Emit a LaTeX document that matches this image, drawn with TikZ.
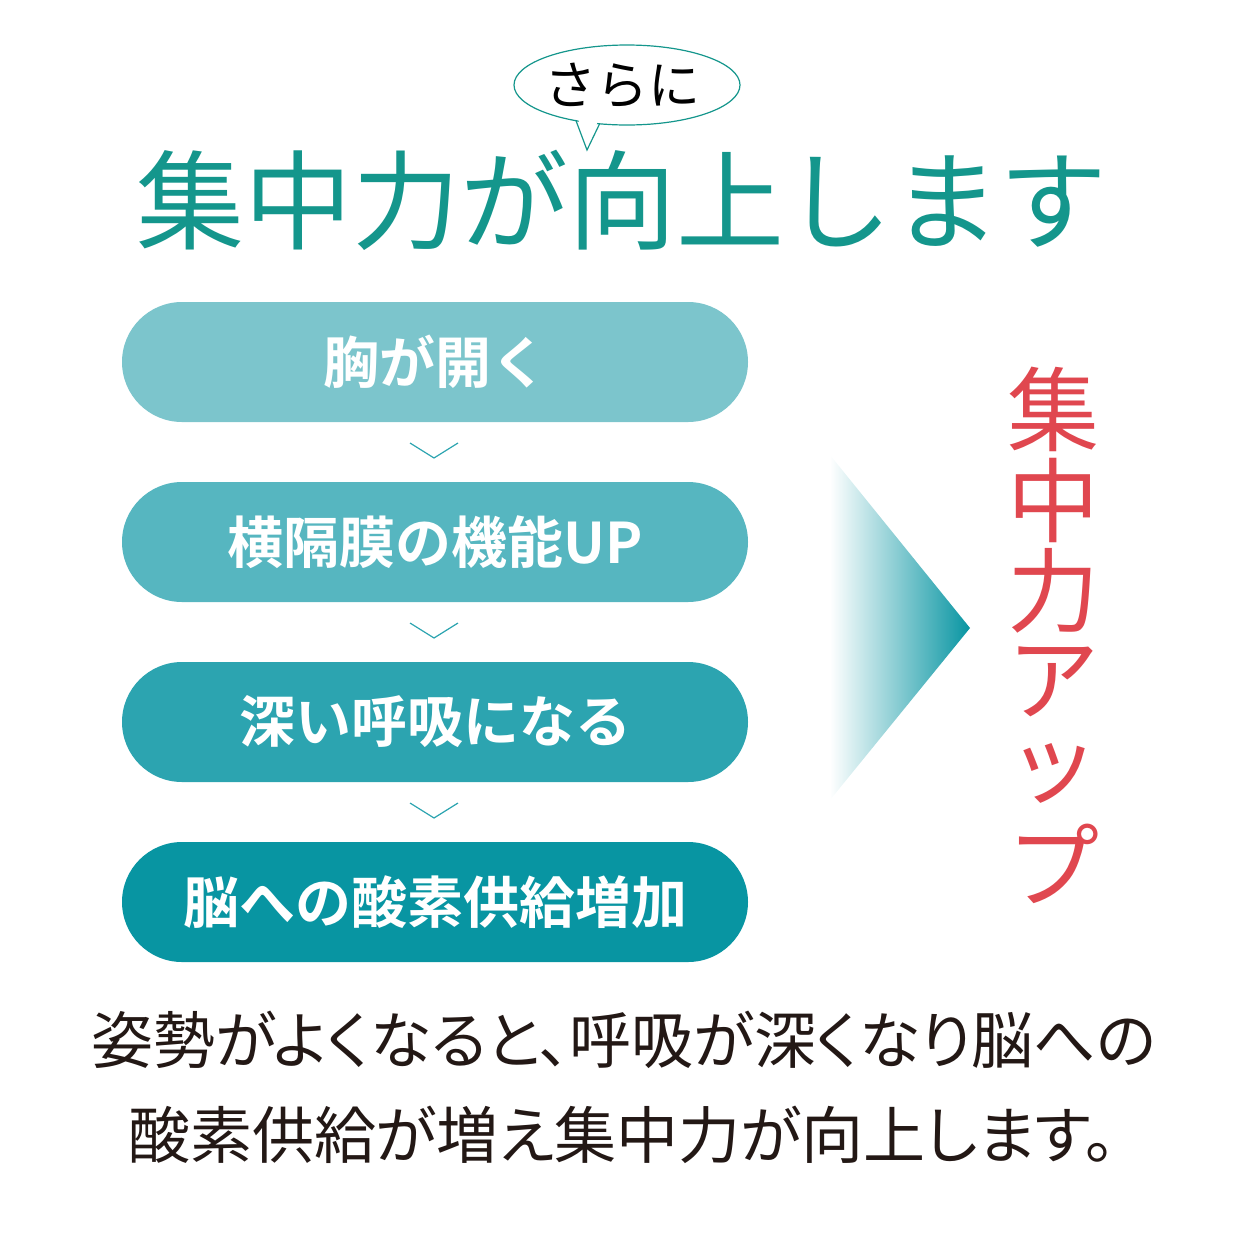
\documentclass[tikz,border=0pt]{standalone}
\usepackage{fontspec}
\newfontfamily\jp{Noto Sans CJK JP}
\newfontfamily\jpp[RawFeature=+palt]{Noto Sans CJK JP}
\newfontfamily\jpb{Noto Sans CJK JP Bold}
\usetikzlibrary{positioning,shapes.geometric}
\definecolor{ttl}{RGB}{20,150,140}
\definecolor{boxa}{RGB}{124,197,204}
\definecolor{boxb}{RGB}{86,182,192}
\definecolor{boxc}{RGB}{44,164,176}
\definecolor{boxd}{RGB}{8,149,162}
\definecolor{up}{RGB}{224,71,79}
\definecolor{body}{RGB}{35,24,21}
\begin{document}
\begin{tikzpicture}[x=1pt,y=-1pt,
	stepbox/.style={rounded corners=60pt, minimum width=626pt, minimum height=120pt, text=white, font=\jpb\fontsize{56}{56}\selectfont, inner sep=0pt},
	chev/.style={boxc, line width=1.2pt}
	]
	\useasboundingbox (0,0) rectangle (1248,1248);
	
	% bubble
	\draw[ttl, line width=1.2pt, fill=white] (575,118) -- (587,150) -- (600,123);
	\node[ellipse, draw=ttl, line width=1.2pt, fill=white, minimum width=226pt, minimum height=80pt] (bubble) at (627,85) {};
	\fill[white] (577,116) -- (587,146) -- (598,121) -- cycle;
	\node[font=\jp\fontsize{52}{52}\selectfont] (sarani) at (622,85) {さらに};
	
	\node[text=ttl, font=\jp\fontsize{108}{108}\selectfont] (title) at (622,200) {集中力が向上します};
	
	\node[stepbox, fill=boxa] (s1) at (435,362) {胸が開く};
	\node[stepbox, fill=boxb] (s2) at (435,542) {横隔膜の機能UP};
	\node[stepbox, fill=boxc] (s3) at (435,722) {深い呼吸になる};
	\node[stepbox, fill=boxd] (s4) at (435,902) {脳への酸素供給増加};
	
	\foreach \y in {443,623,803}
	  \draw[chev] (410,\y) -- (434,\y+15) -- (458,\y);
	
	\shade[left color=white, right color=boxd] (830,455) -- (970,628) -- (830,800) -- cycle;
	
	\foreach \c [count=\i] in {集,中,力,ア,ッ,プ}
	  \node[text=up, font=\jp\fontsize{92}{92}\selectfont, inner sep=0pt] (v\i) at (1053,318+91*\i) {\c};
	
	\node[text=body, font=\jpp\fontsize{62}{62}\selectfont] (line1) at (624,1040) {姿勢がよくなると、呼吸が深くなり脳への};
	\node[text=body, font=\jpp\fontsize{62}{62}\selectfont] (line2) at (622,1135) {酸素供給が増え集中力が向上します。};
\end{tikzpicture}
\end{document}
